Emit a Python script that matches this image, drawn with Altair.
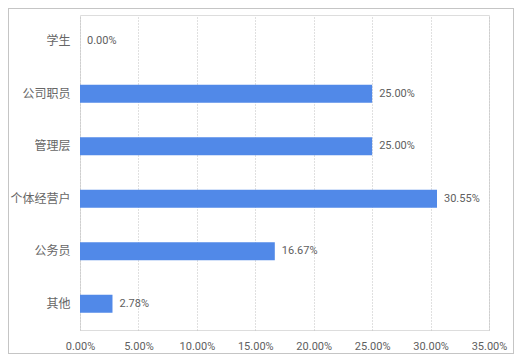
import altair as alt
import pandas as pd

categories = ["学生", "公司职员", "管理层", "个体经营户", "公务员", "其他"]
values = [0.0, 0.25, 0.25, 0.3055, 0.1667, 0.0278]

df = pd.DataFrame({"cat": categories, "val": values})
df["label"] = [f"{v*100:.2f}%" for v in values]

W, H = 409, 315
PL, PT, PR, PB = 72, 7, 25, 24

x = alt.X("val:Q", scale=alt.Scale(domain=[0, 0.35], nice=False, zero=True),
          axis=alt.Axis(format=".2%", values=[0, 0.05, 0.1, 0.15, 0.2, 0.25, 0.3, 0.35],
                        title=None, domain=False, ticks=False, labelPadding=10,
                        labelFlush=False, labelOverlap=False,
                        labelFont="Roboto", labelFontSize=11, labelColor="#606060",
                        grid=True, gridColor="#c0c0c0", gridDash=[1, 2], gridWidth=1))
y = alt.Y("cat:N", sort=categories,
          scale=alt.Scale(paddingInner=0.66, paddingOuter=0.33),
          axis=alt.Axis(title=None, domain=False, ticks=False, labelPadding=10,
                        labelFont="Noto Sans CJK SC", labelFontSize=12, labelColor="#666666",
                        grid=False))

bars = alt.Chart(df).mark_bar(color="#5189E8").encode(x=x, y=y)
text = alt.Chart(df).mark_text(align="left", baseline="middle", dx=7,
                               font="Roboto", fontSize=11, color="#606060").encode(
    x="val:Q", y=alt.Y("cat:N", sort=categories), text="label:N")

border = alt.Chart(df).mark_rect(fill=None, stroke="#c4c4c4", strokeDash=[1, 1],
                                 strokeWidth=1).encode(
    x=alt.value(-PL + 0.5), x2=alt.value(W + PR - 0.5),
    y=alt.value(-PT + 0.5), y2=alt.value(H + PB - 0.5))

chart = alt.layer(bars, text, border).properties(
    width=W, height=H,
    autosize=alt.AutoSizeParams(type="none"),
    padding={"left": PL, "top": PT, "right": PR, "bottom": PB},
).configure_view(stroke=None).configure(background="white")

chart.save("out.html", embed_options={"renderer": "svg", "actions": False})
